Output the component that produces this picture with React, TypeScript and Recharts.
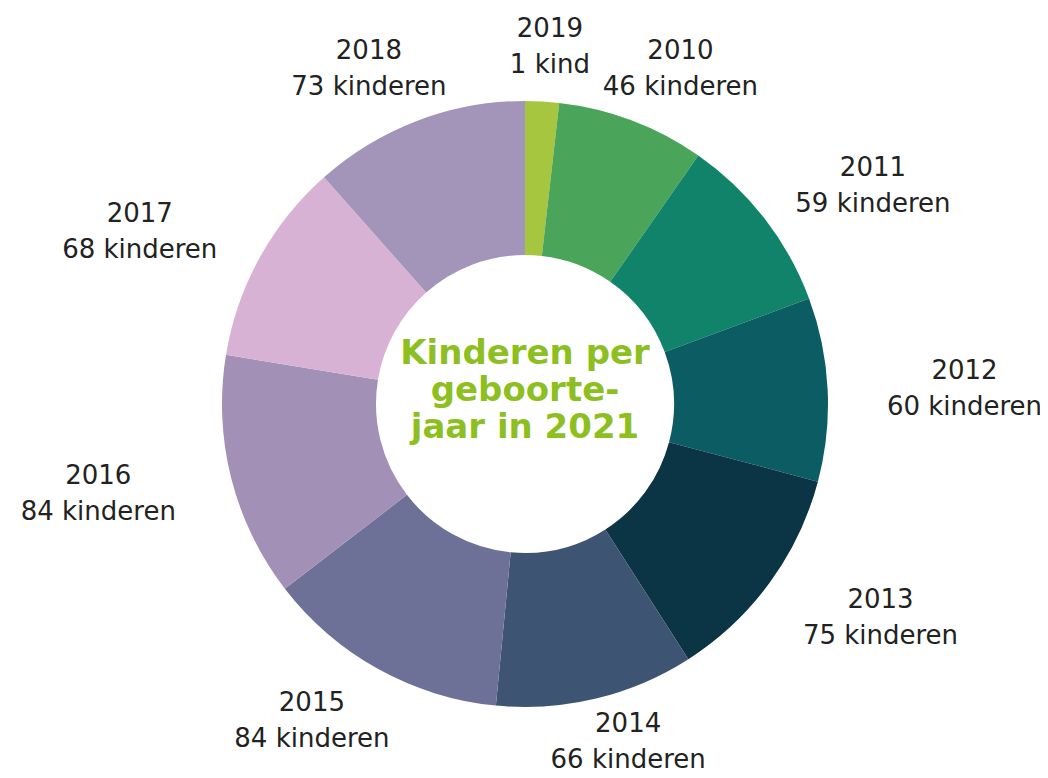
import { PieChart, Pie, Cell } from "recharts";

// clockwise from the top
const years = ["2019", "2010", "2011", "2012", "2013", "2014", "2015", "2016", "2017", "2018"];
const counts = [1, 46, 59, 60, 75, 66, 84, 84, 68, 73];
const colors = [
  "#a6c63f", // 2019
  "#4aa55b", // 2010
  "#11836a", // 2011
  "#0c5c63", // 2012
  "#0b3544", // 2013
  "#3d5572", // 2014
  "#6d7197", // 2015
  "#a290b7", // 2016
  "#d8b2d5", // 2017
  "#a394ba", // 2018
];
const centerLines = ["Kinderen per", "geboorte-", "jaar in 2021"];

const data = years.map((year, i) => ({ year, value: counts[i] }));

const RAD = Math.PI / 180;
const CX = 525;
const CY = 404;

const renderLabel = (props: any) => {
  const { cx, cy, midAngle, index } = props;
  // labels sit on an ellipse around the ring: wider than it is tall
  const x = cx + 440 * Math.cos(midAngle * RAD);
  // keep the bottom label inside the picture
  const y = Math.min(cy - 360 * Math.sin(midAngle * RAD), 740);
  const n = counts[index];
  return (
    <text
      x={x}
      y={y}
      textAnchor="middle"
      fill="#222"
      fontSize={26}
      fontFamily="'DejaVu Sans', sans-serif"
    >
      <tspan x={x} dy={-8}>{years[index]}</tspan>
      <tspan x={x} dy={36}>{n === 1 ? "1 kind" : `${n} kinderen`}</tspan>
    </text>
  );
};

export default function App() {
  return (
    <div style={{ margin: -8, width: 1048, height: 778, position: "relative", background: "#fff" }}>
      <PieChart width={1048} height={778} margin={{ top: 0, right: 0, bottom: 0, left: 0 }}>
        <Pie
          data={data}
          dataKey="value"
          nameKey="year"
          cx={CX}
          cy={CY}
          innerRadius={149}
          outerRadius={303}
          startAngle={90}
          endAngle={-270}
          minAngle={6}
          stroke="none"
          label={renderLabel}
          labelLine={false}
          isAnimationActive={false}
        >
          {data.map((d, i) => (
            <Cell key={d.year} fill={colors[i]} />
          ))}
        </Pie>
      </PieChart>
      <div
        style={{
          position: "absolute",
          left: CX - 150,
          top: 334,
          width: 300,
          textAlign: "center",
          color: "#8cbf1f",
          fontFamily: "'DejaVu Sans', Verdana, sans-serif",
          fontWeight: 700,
          fontSize: 34,
          lineHeight: "37px",
        }}
      >
        {centerLines.map((l) => (
          <div key={l}>{l}</div>
        ))}
      </div>
    </div>
  );
}
